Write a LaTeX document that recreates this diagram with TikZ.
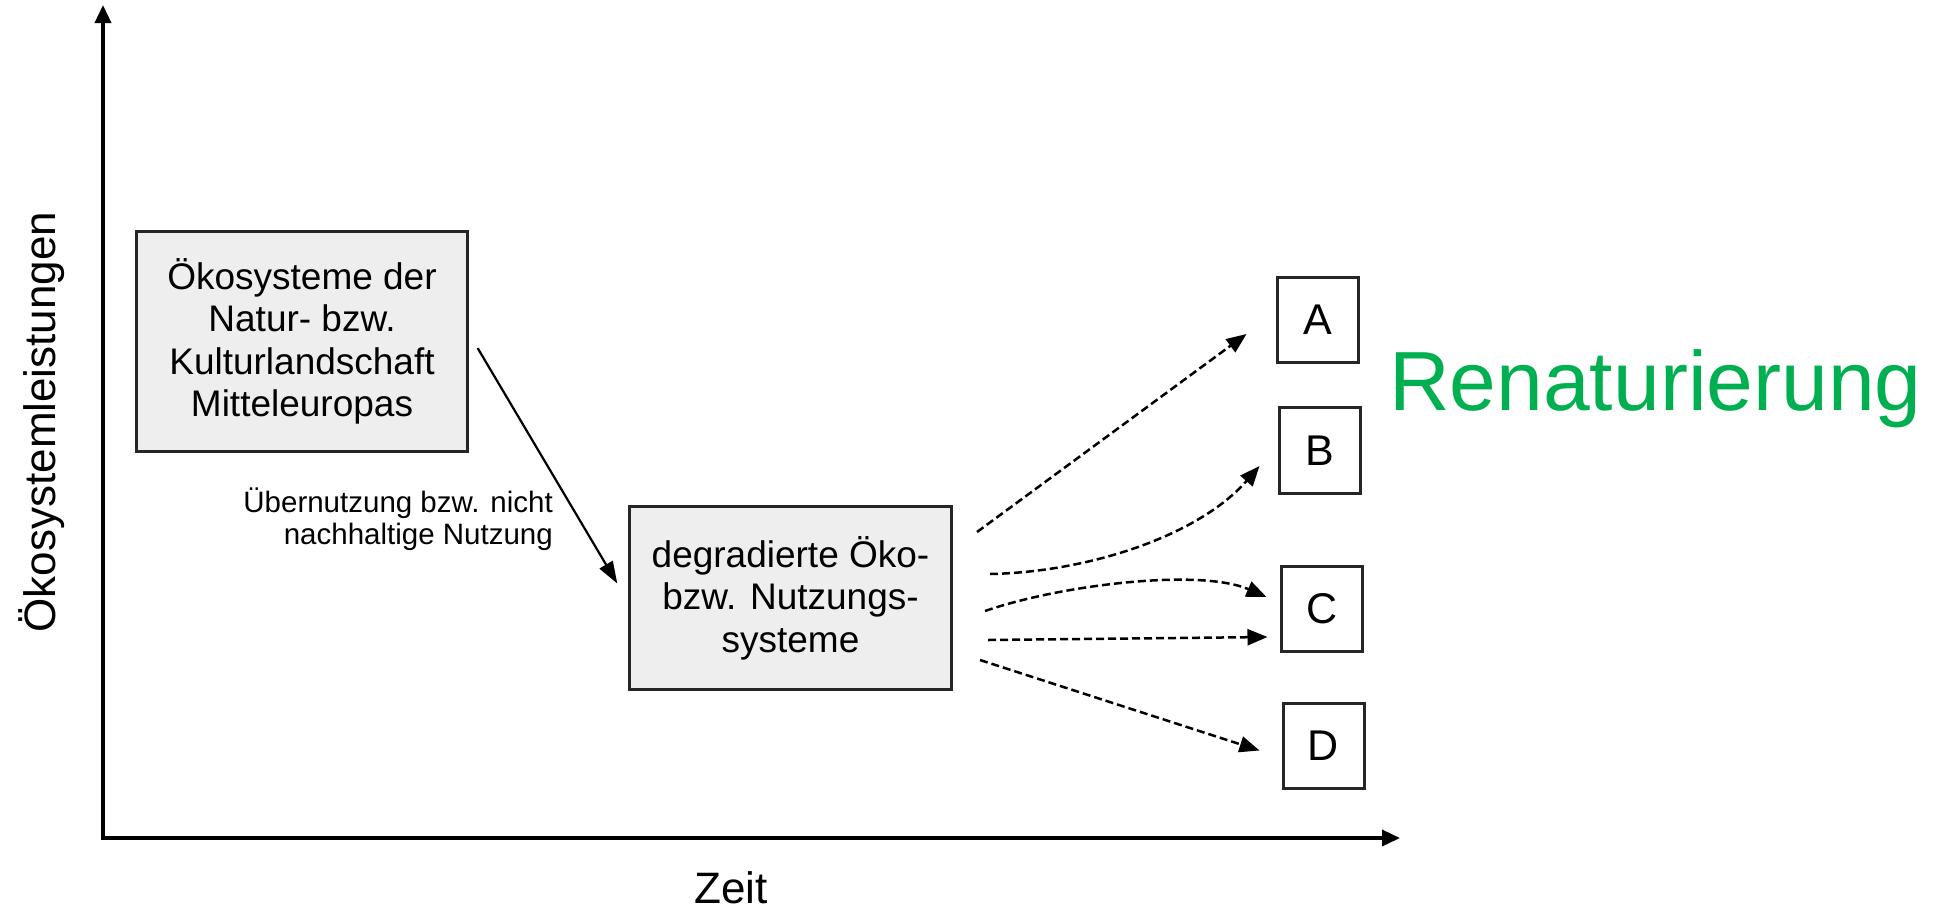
\documentclass[tikz,border=0pt]{standalone}
\usepackage{fontspec}
\setmainfont{Liberation Sans}
\usetikzlibrary{arrows.meta,calc}
\definecolor{boxgray}{HTML}{EEEEEE}
\definecolor{rgreen}{HTML}{00B050}
\begin{document}
\begin{tikzpicture}[x=1pt,y=-1pt,
  graybox/.style={draw=black!85, line width=3pt, fill=boxgray, inner sep=0pt, align=center, font=\fontsize{37}{42.5}\selectfont},
  letterbox/.style={draw=black!85, line width=3pt, fill=white, inner sep=0pt, font=\fontsize{43}{43}\selectfont, minimum width=81pt, minimum height=85.5pt},
  axisline/.style={line width=3.5pt, {Triangle[length=18pt,width=16pt]}-{Triangle[length=18pt,width=16pt]}},
  solidarrow/.style={line width=2.2pt, -{Triangle[length=22pt,width=15pt]}},
  dasharrow/.style={line width=2.5pt, dash pattern=on 8pt off 4pt, -{Triangle[length=20pt,width=16pt]}},
  plainlabel/.style={inner sep=0pt}
]
\useasboundingbox (0,0) rectangle (1957,911);

% axes
\coordinate (O) at (103,838);
\coordinate (ytop) at (103,5);
\coordinate (xend) at (1400,838);
\draw[axisline] (ytop) -- (O) -- (xend);

\node[plainlabel, rotate=90, anchor=base, font=\fontsize{44}{44}\selectfont] (ylab) at (55,422) {Ökosystemleistungen};
\node[plainlabel, anchor=base, font=\fontsize{44}{44}\selectfont] (zeit) at (731,903) {Zeit};

% boxes
\node[graybox, minimum width=331pt, minimum height=220pt] (eco) at (302,341.5)
  {Ökosysteme der\\Natur- bzw.\\Kulturlandschaft\\Mitteleuropas};
\node[graybox, minimum width=322pt, minimum height=183pt] (deg) at (790.5,598)
  {degradierte Öko-\\bzw. Nutzungs-\\systeme};

\node[letterbox] (A) at (1318,320) {A};
\node[letterbox] (B) at (1319.5,450.5) {B};
\node[letterbox] (C) at (1322,609) {C};
\node[letterbox] (D) at (1323.5,746) {D};

\node[plainlabel, anchor=base west, text=rgreen, font=\fontsize{84}{84}\selectfont] (ren) at (1389,410) {Renaturierung};

% solid arrow
\draw[solidarrow, shorten <=17pt, shorten >=21pt] ($(eco.east)+(0,-8)$) -- ($(deg.west)+(0,3.6)$);
\node[plainlabel, anchor=east, align=right, font=\fontsize{29.5}{32.5}\selectfont] (lbl) at (553,519)
  {Übernutzung bzw. nicht\\nachhaltige Nutzung};

% dashed arrows
\draw[dasharrow] ($(deg.east)+(24,-66)$) -- ($(A.west)+(-29.5,14)$);
\draw[dasharrow] ($(deg.east)+(37,-24)$) .. controls +(100,-2) and +(-60,69) .. ($(B.west)+(-18,15.5)$);
\draw[dasharrow] ($(deg.east)+(32,13)$) .. controls +(75,-26) and +(-67,-29) .. ($(C.west)+(-13.5,-12)$);
\draw[dasharrow] ($(deg.east)+(35,42)$) -- ($(C.west)+(-12.5,28)$);
\draw[dasharrow] ($(deg.east)+(27,62)$) -- ($(D.west)+(-22,4.5)$);
\end{tikzpicture}
\end{document}
